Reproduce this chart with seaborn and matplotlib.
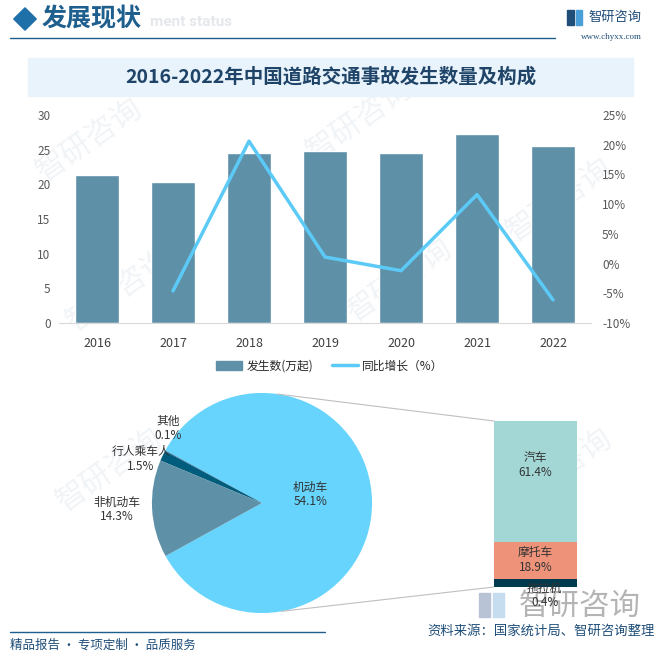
import numpy as np
import pandas as pd
import seaborn as sns
import matplotlib
matplotlib.use("Agg")
import matplotlib.pyplot as plt
from matplotlib.patches import Rectangle, RegularPolygon, ConnectionPatch
from matplotlib.lines import Line2D

sns.set_style("white")
plt.rcParams['font.family'] = ['Noto Sans CJK SC', 'DejaVu Sans']

# 数据
years = ["2016", "2017", "2018", "2019", "2020", "2021", "2022"]
counts = [21.3, 20.3, 24.5, 24.8, 24.5, 27.3, 25.6]          # 发生数(万起)
growth = [np.nan, -4.6, 20.6, 1.1, -1.2, 11.6, -6.1]        # 同比增长(%)

pie_names = ["机动车", "其他", "行人乘车人", "非机动车"]
pie_sizes = [84.1, 0.1, 1.5, 14.3]
pie_texts = ["54.1%", "0.1%", "1.5%", "14.3%"]

stack_names = ["拖拉机", "摩托车", "汽车"]
stack_sizes = [3.8, 18.9, 61.4]
stack_texts = ["0.4%", "18.9%", "61.4%"]

W, H = 663, 656
BAR_C = "#5E90A8"
LINE_C = "#5CCAF6"
NAVY = "#1F4E79"


def fx(x):
    return x / W


def fy(y):
    return 1 - y / H


fig = plt.figure(figsize=(6.63, 6.56), dpi=100, facecolor="white")

# 水印 (薄く)
for (wx, wy) in [(90, 140), (360, 120), (560, 200), (120, 290), (400, 280), (110, 470), (560, 470), (300, 560)]:
    fig.text(fx(wx), fy(wy), "智研咨询", fontsize=22, color="#F1F4F7", rotation=35,
             ha="center", va="center", zorder=-1)

# ---- ヘッダー ----
fig.add_artist(RegularPolygon((fx(25), fy(19)), numVertices=4, radius=0.017,
                              orientation=0, color="#1F6FA8", transform=fig.transFigure))
fig.text(fx(150), fy(22), "ment status", fontsize=11, fontweight="bold",
         color="#E4E8EC", ha="left", va="center", family=["Roboto", "DejaVu Sans"], zorder=1)
fig.text(fx(42), fy(19), "发展现状", fontsize=18, fontweight="bold", color="#1F5F8E",
         ha="left", va="center", zorder=2)
fig.add_artist(Line2D([fx(10), fx(555)], [fy(38), fy(38)], color="#1F5F8E", lw=1.0,
                      transform=fig.transFigure))
fig.add_artist(Rectangle((fx(567), fy(25)), 7 / W, 15 / H, color="#1F4E79", transform=fig.transFigure))
fig.add_artist(Rectangle((fx(576), fy(25)), 6 / W, 15 / H, color="#4A9FD8", transform=fig.transFigure))
fig.text(fx(588), fy(17), "智研咨询", fontsize=9.5, color=NAVY, ha="left", va="center")
fig.text(fx(642), fy(37), "www.chyxx.com", fontsize=6.5, color=NAVY, ha="right", va="center",
         family=["Liberation Serif", "DejaVu Serif"])

# タイトル帯
fig.add_artist(Rectangle((fx(28), fy(96)), 605 / W, 38 / H, color="#E8F3FB",
                         transform=fig.transFigure, zorder=1))
fig.text(fx(331), fy(77), "2016-2022年中国道路交通事故发生数量及构成", fontsize=14,
         fontweight="bold", color="#1F4468", ha="center", va="center", zorder=2)

# ---- 棒グラフ + 折れ線 ----
df = pd.DataFrame({"year": years, "count": counts, "growth": growth})
ax = fig.add_axes([fx(59), fy(323), 532 / W, 208 / H])
ax.patch.set_alpha(0)
sns.barplot(data=df, x="year", y="count", color=BAR_C, saturation=1, width=0.57, ax=ax)
ax.set_ylim(0, 30)
ax.set_yticks(range(0, 31, 5))
ax.set_xlim(-0.5, 6.5)
ax.set_xlabel("")
ax.set_ylabel("")
for s in ["top", "right", "left"]:
    ax.spines[s].set_visible(False)
ax.spines["bottom"].set_color("#D9D9D9")
ax.tick_params(axis="both", length=0, colors="#595959")
ax.tick_params(axis="x", labelsize=9, pad=10, colors="#404040")
ax.tick_params(axis="y", labelsize=8.5, pad=6)

ax2 = ax.twinx()
line_df = df.dropna().copy()
line_df["pos"] = [years.index(y) for y in line_df["year"]]
sns.lineplot(data=line_df, x="pos", y="growth", color=LINE_C, lw=2.5, ax=ax2)
ax2.set_ylim(-10, 25)
ax2.set_yticks(range(-10, 26, 5))
ax2.set_yticklabels([f"{v}%" for v in range(-10, 26, 5)])
ax2.set_ylabel("")
ax2.set_xlabel("")
for s in ["top", "right", "left", "bottom"]:
    ax2.spines[s].set_visible(False)
ax2.tick_params(axis="y", length=0, labelsize=8.5, colors="#595959", pad=8)
ax.set_xlim(-0.5, 6.5)

handles = [Rectangle((0, 0), 1, 1, color=BAR_C), Line2D([0], [0], color=LINE_C, lw=2.5)]
fig.legend(handles, ["发生数(万起)", "同比增长（%）"], loc="center", bbox_to_anchor=(fx(330), fy(366)),
           ncol=2, frameon=False, fontsize=8.5, handlelength=2.2, handleheight=0.9, columnspacing=1.5,
           handletextpad=0.4)

# ---- 円グラフ ----
ax_pie = fig.add_axes([fx(262 - 115), fy(503 + 115), 230 / W, 230 / H])
ax_pie.pie(pie_sizes, colors=["#66D4FC", "#1F4E79", "#005C7C", BAR_C], startangle=208.8,
           counterclock=True, wedgeprops={"linewidth": 0})
ax_pie.set_xlim(-1.045, 1.045)
ax_pie.set_ylim(-1.045, 1.045)
ax_pie.set_aspect("equal")
ax_pie.axis("off")

pie_pos = {"机动车": (0.44, 0.08), "其他": (-0.85, 0.68), "行人乘车人": (-1.1, 0.4), "非机动车": (-1.32, -0.06)}
for name, txt in zip(pie_names, pie_texts):
    px, py = pie_pos[name]
    ax_pie.text(px, py, f"{name}\n{txt}", ha="center", va="center", fontsize=8.5, color="#333333",
                linespacing=1.15, clip_on=False)

# ---- 積み上げ棒 ----
ax_bar = fig.add_axes([fx(494), fy(587), 83 / W, 166 / H])
bottom = 0
stack_colors = ["#003A4F", "#EE937A", "#A3D7D5"]
for val, c in zip(stack_sizes, stack_colors):
    ax_bar.bar(0, val, bottom=bottom, width=1, color=c, linewidth=0)
    bottom += val
ax_bar.set_xlim(-0.5, 0.5)
ax_bar.set_ylim(0, sum(stack_sizes))
ax_bar.axis("off")
stack_pos = {"汽车": (0, 61.8), "摩托车": (0, 13.7), "拖拉机": (0.11, -4.2)}
for name, txt in zip(stack_names, stack_texts):
    px, py = stack_pos[name]
    ax_bar.text(px, py, f"{name}\n{txt}", ha="center", va="center", fontsize=8.5, color="#333333",
                linespacing=1.15, clip_on=False, zorder=5)

# 接続線
for ang, yb in [(82, sum(stack_sizes)), (-80, 0)]:
    a = np.deg2rad(ang)
    con = ConnectionPatch(xyA=(np.cos(a), np.sin(a)), coordsA=ax_pie.transData,
                          xyB=(-0.5, yb), coordsB=ax_bar.transData, color="#BFBFBF", lw=0.8)
    fig.add_artist(con)

# 下部ロゴ
fig.add_artist(Rectangle((fx(479), fy(617)), 11 / W, 24 / H, color="#B8C4D6", transform=fig.transFigure,
                         zorder=-1))
fig.add_artist(Rectangle((fx(493), fy(617)), 11 / W, 24 / H, color="#C6DDF0", transform=fig.transFigure,
                         zorder=-1))
fig.text(fx(580), fy(606), "智研咨询", fontsize=22, color="#B4B4B4", ha="center", va="center", zorder=-1)

# ---- フッター ----
fig.add_artist(Line2D([fx(10), fx(325)], [fy(632), fy(632)], color="#1F5F8E", lw=1.0,
                      transform=fig.transFigure))
fig.text(fx(10), fy(645), "精品报告 · 专项定制 · 品质服务", fontsize=9, color="#1F4E79", ha="left", va="center")
fig.text(fx(655), fy(631), "资料来源：国家统计局、智研咨询整理", fontsize=9.6, color="#1F4E79", ha="right", va="center")

fig.savefig("out.png", dpi=100)
